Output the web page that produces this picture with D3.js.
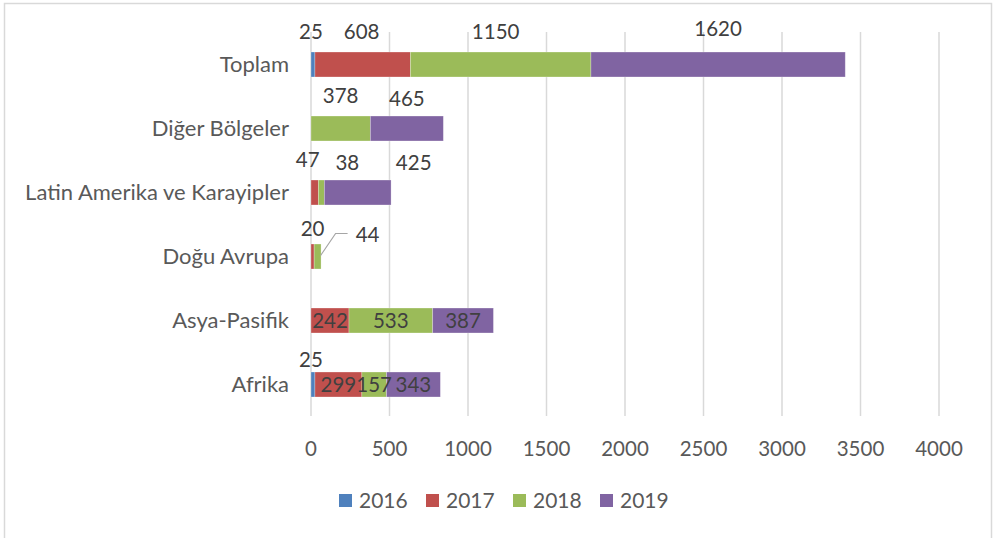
<!DOCTYPE html>
<html>
<head>
<meta charset="utf-8">
<script src="https://cdn.jsdelivr.net/npm/d3@7"></script>
<style>
  body { margin: 0; background: #fff; }
  text { font-family: Lato, "Noto Sans", sans-serif; }
</style>
</head>
<body>
<div id="vizArea"></div>
<script>
// data
const categories = ['Toplam', 'Diğer Bölgeler', 'Latin Amerika ve Karayipler', 'Doğu Avrupa', 'Asya-Pasifik', 'Afrika']
const years = ['2016', '2017', '2018', '2019']
const v2016 = [25, 0, 0, 0, 0, 25]
const v2017 = [608, 0, 47, 20, 242, 299]
const v2018 = [1150, 378, 38, 44, 533, 157]
const v2019 = [1620, 465, 425, 0, 387, 343]
const xTicks = [0, 500, 1000, 1500, 2000, 2500, 3000, 3500, 4000]

const colors = ['#4F81BD', '#C0504D', '#9BBB59', '#8064A2']

// where each label sits relative to its segment (hand placed in the original)
// [dx, dy] from segment centre; null = no label
const nudge = {
    'Toplam': [[-2, -25.5], [-1, -25.5], [-5, -25.5], [0, -28.5]],
    'Diğer Bölgeler': [null, null, [0, -25.5], [0, -22.5]],
    'Latin Amerika ve Karayipler': [null, [-7, -25.5], [26, -22.5], [56, -22.5]],
    'Doğu Avrupa': [null, [0, -20.5], [50, -14.5], null],
    'Asya-Pasifik': [null, [0, 7], [0, 7], [0, 7]],
    'Afrika': [[-2, -17.5], [0, 7], [0, 7], [0, 7]]
}

const width = 993, height = 538

const rows = categories.map((c, i) => ({
    cat: c, '2016': v2016[i], '2017': v2017[i], '2018': v2018[i], '2019': v2019[i]
}))
const series = d3.stack().keys(years)(rows)

const svg = d3.select('#vizArea').append('svg')
    .attr('width', width)
    .attr('height', height)

svg.append('rect')
    .attr('x', 4.5).attr('y', 3.5)
    .attr('width', 987).attr('height', 545)
    .attr('fill', 'none')
    .attr('stroke', '#d9d9d9')
    .attr('stroke-width', 1.5)

const x = d3.scaleLinear().domain([0, 4000]).range([311, 939])
const y = d3.scaleBand().domain(categories).range([32.5, 416.5]).paddingInner(0.61).paddingOuter(0.305)

// gridlines
svg.append('g').selectAll('line')
    .data(xTicks)
    .enter()
    .append('line')
    .attr('x1', d => x(d)).attr('x2', d => x(d))
    .attr('y1', 32).attr('y2', 416)
    .attr('stroke', '#d9d9d9')
    .attr('stroke-width', 1.5)

// x tick labels
svg.append('g').selectAll('text')
    .data(xTicks)
    .enter()
    .append('text')
    .attr('x', d => x(d))
    .attr('y', 456)
    .attr('text-anchor', 'middle')
    .attr('font-size', 20.5)
    .attr('fill', '#595959')
    .text(d => d)

// category labels
svg.append('g').selectAll('text')
    .data(categories)
    .enter()
    .append('text')
    .attr('x', 289)
    .attr('y', d => y(d) + y.bandwidth() / 2 + 7.5)
    .attr('text-anchor', 'end')
    .attr('font-size', 22)
    .attr('fill', '#595959')
    .text(d => d)

// bars
svg.append('g').selectAll('g')
    .data(series)
    .enter()
    .append('g')
    .attr('fill', (d, i) => colors[i])
    .selectAll('rect')
    .data(d => d.filter(s => s[1] - s[0] > 0))
    .enter()
    .append('rect')
    .attr('x', d => x(d[0]))
    .attr('width', d => x(d[1]) - x(d[0]))
    .attr('y', d => y(d.data.cat))
    .attr('height', y.bandwidth())
    .attr('stroke', 'rgba(255,255,255,0.35)')
    .attr('stroke-width', 0.75)

// data labels
let labels = []
series.forEach((s, k) => {
    s.forEach(d => {
        const n = nudge[d.data.cat][k]
        if (!n || d[1] - d[0] <= 0) return
        labels.push({
            v: d[1] - d[0],
            cx: (x(d[0]) + x(d[1])) / 2 + n[0],
            cy: y(d.data.cat) + y.bandwidth() / 2 + n[1],
            seg: d
        })
    })
})

svg.append('g').selectAll('text')
    .data(labels)
    .enter()
    .append('text')
    .attr('x', d => d.cx)
    .attr('y', d => d.cy)
    .attr('text-anchor', 'middle')
    .attr('font-size', 20.5)
    .attr('fill', '#404040')
    .text(d => d.v)

// leader line for the Doğu Avrupa 2018 label
const lead = labels.find(d => d.seg.data.cat === 'Doğu Avrupa' && d.v === 44)
const segMid = (x(lead.seg[0]) + x(lead.seg[1])) / 2
const by = y('Doğu Avrupa') + y.bandwidth() / 2
svg.append('path')
    .attr('d', d3.line()([[segMid + 3, by - 1], [segMid + 18, by - 23], [lead.cx - 20, by - 23]]))
    .attr('fill', 'none')
    .attr('stroke', '#a6a6a6')
    .attr('stroke-width', 1.2)

// legend
const legend = svg.append('g').selectAll('g')
    .data(years)
    .enter()
    .append('g')
    .attr('transform', (d, i) => `translate(${339 + i * 87},494)`)

legend.append('rect')
    .attr('width', 13).attr('height', 13)
    .attr('fill', (d, i) => colors[i])

legend.append('text')
    .attr('x', 20)
    .attr('y', 14)
    .attr('font-size', 21)
    .attr('fill', '#595959')
    .text(d => d)
</script>
</body>
</html>
